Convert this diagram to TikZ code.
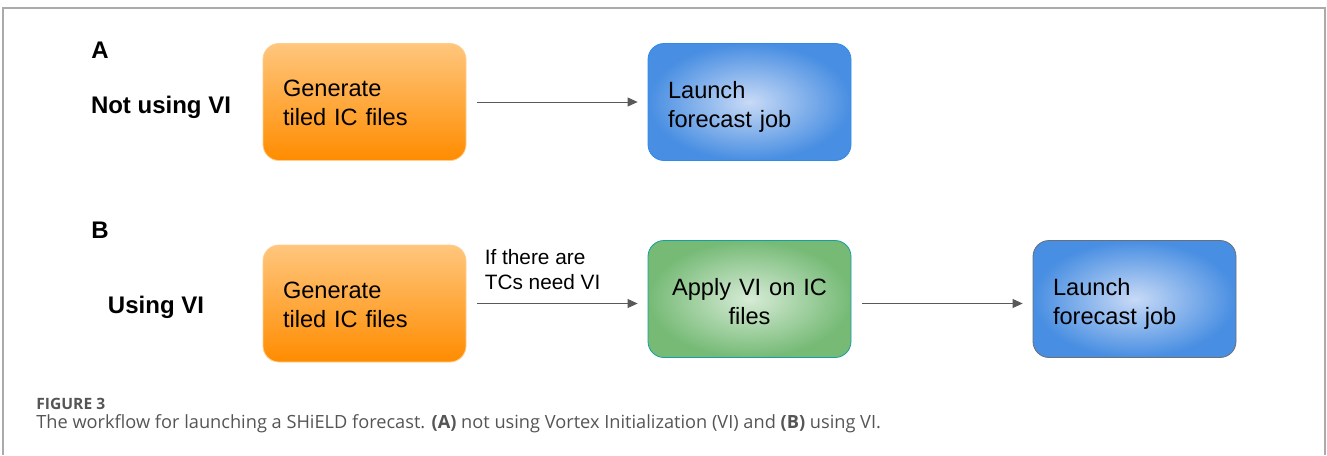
\documentclass[tikz,border=0pt]{standalone}
\usepackage{fontspec}
\setmainfont{Liberation Sans}
\newfontfamily\capfont{Open Sans}
\usepackage{xcolor}
\usetikzlibrary{positioning, arrows.meta}
\definecolor{orangetop}{RGB}{255,198,125}
\definecolor{orangebot}{RGB}{255,140,0}
\definecolor{orangeline}{RGB}{255,205,140}
\definecolor{bluein}{RGB}{200,218,246}
\definecolor{blueout}{RGB}{72,142,226}
\definecolor{blueline}{RGB}{45,140,235}
\definecolor{greenin}{RGB}{214,235,214}
\definecolor{greenout}{RGB}{118,186,118}
\definecolor{tealline}{RGB}{20,160,160}
\definecolor{greyline}{RGB}{105,112,120}
\definecolor{capgrey}{RGB}{85,85,85}
\tikzstyle{gen} = [rectangle, rounded corners=8pt, minimum width=101.5pt, minimum height=58.5pt, text width=81.5pt, align=left, text depth=13.5pt, draw=orangeline, top color=orangetop, bottom color=orangebot, font=\fontsize{11.8}{14.5}\selectfont]
\tikzstyle{launch} = [rectangle, rounded corners=8pt, minimum width=101.5pt, minimum height=58.5pt, text width=81.5pt, align=left, text depth=12.5pt, draw=blueline, inner color=bluein, outer color=blueout, font=\fontsize{11.8}{14.5}\selectfont]
\tikzstyle{apply} = [rectangle, rounded corners=8pt, minimum width=101.5pt, minimum height=58.5pt, text width=85pt, align=center, text depth=12.5pt, draw=tealline, inner color=greenin, outer color=greenout, font=\fontsize{11.8}{14.5}\selectfont]
\tikzstyle{side} = [font=\bfseries\fontsize{12}{14}\selectfont]
\tikzstyle{arrow} = [thin, draw=black!65, -{Triangle[length=5pt,width=4.5pt]}, shorten <=5.5pt, shorten >=5pt]

\begin{document}
\begin{tikzpicture}[x=0.5pt, y=-0.5pt, node distance=192.5pt]
		\useasboundingbox (0,0) rectangle (1327,455);
		\draw [black!33, line width=1pt] (3,455) -- (3,8) -- (1325,8) -- (1325,455);
		
		% A: not using VI
		\node (labA) [side] at (100,50) {A};
		\node (notvi) [side] at (161,107) {Not using VI};
		\node (genA) [gen] at (364.5,102) {Generate\\tiled IC files};
		\node (launchA) [launch, right of=genA] {Launch\\forecast job};
		\draw [arrow] (genA) -- (launchA);
		
		% B: using VI
		\node (labB) [side] at (100,230) {B};
		\node (usevi) [side] at (156,307) {Using VI};
		\node (genB) [gen] at (364.5,303.5) {Generate\\tiled IC files};
		\node (applyB) [apply, right of=genB, yshift=2.25pt] {Apply VI on IC\\files};
		\node (launchB) [launch, right of=applyB, draw=greyline] {Launch\\forecast job};
		\draw [arrow] (genB) -- (applyB.west |- genB)
			node [pos=0, anchor=south west, align=left, inner sep=0pt, xshift=9pt, yshift=6.5pt, font=\fontsize{10.4}{12.5}\selectfont] {If there are\\TCs need VI};
		\draw [arrow] (applyB.east |- genB) -- (launchB.west |- genB);
		
		% caption
		\node (fig) [anchor=base west, inner sep=0pt, text=capgrey, font=\capfont\bfseries\fontsize{7.8}{9}\selectfont] at (36,409) {FIGURE 3};
		\node (cap) [anchor=base west, inner sep=0pt, text=capgrey, font=\capfont\fontsize{9.1}{11}\selectfont] at (36,428) {The workflow for launching a SHiELD forecast. \textbf{(A)} not using Vortex Initialization (VI) and \textbf{(B)} using VI.};
	\end{tikzpicture}
\end{document}
